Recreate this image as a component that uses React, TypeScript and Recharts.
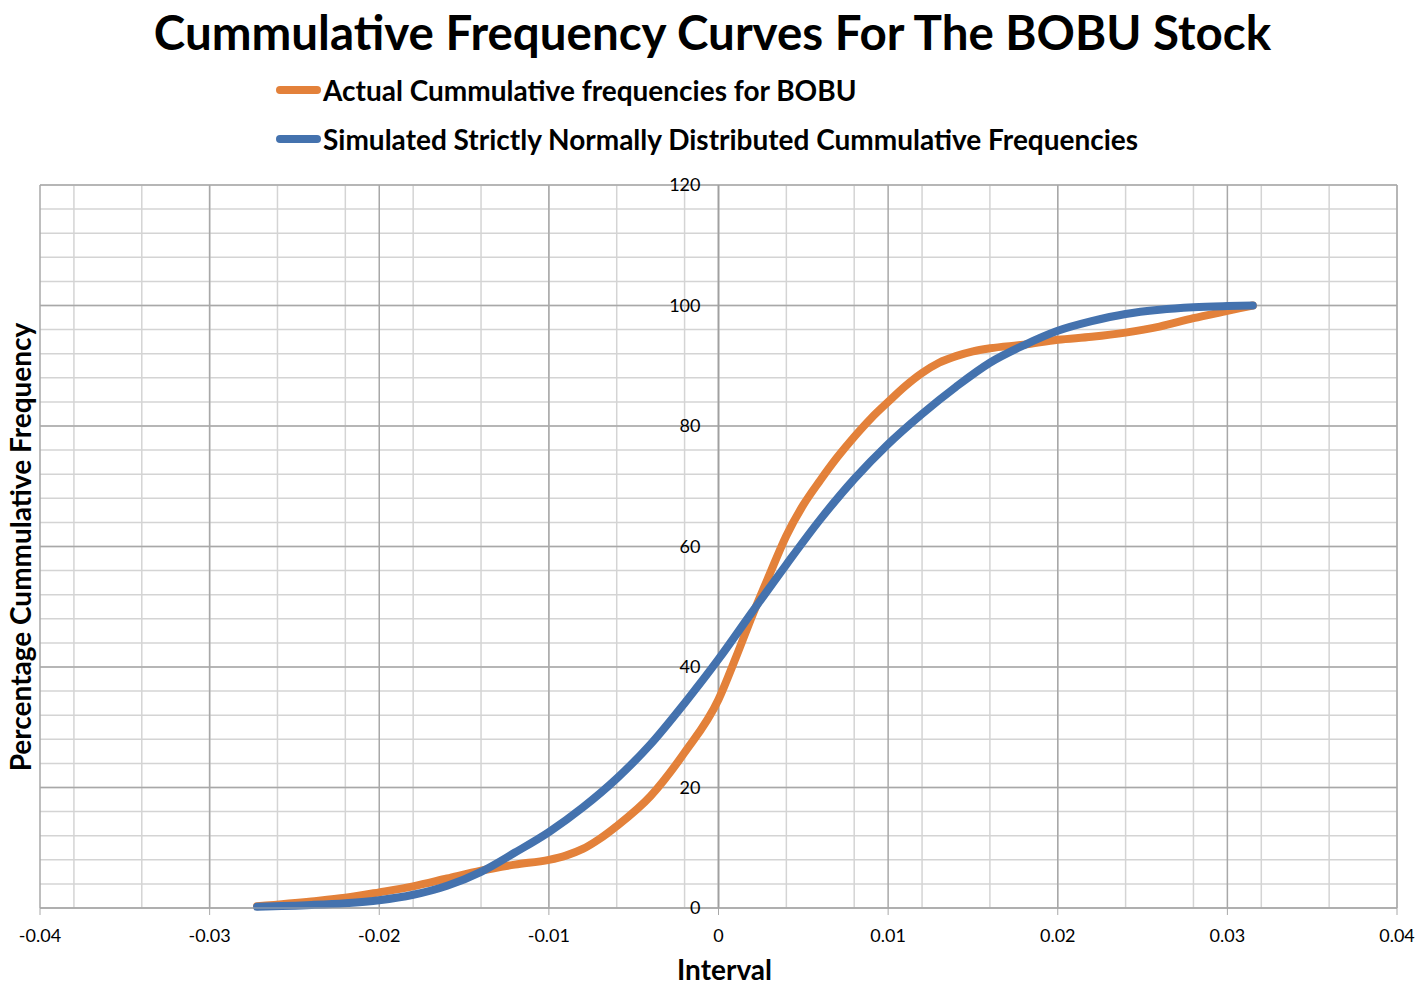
import React from 'react';
import { LineChart, Line, XAxis, YAxis, CartesianGrid, ReferenceLine } from 'recharts';

const actualX = [-0.0272, -0.024, -0.022, -0.02, -0.018, -0.016, -0.014, -0.012, -0.01, -0.009, -0.008, -0.007, -0.006, -0.004, -0.002, 0, 0.001, 0.002, 0.003, 0.004, 0.005, 0.006, 0.007, 0.008, 0.009, 0.01, 0.011, 0.012, 0.013, 0.014, 0.015, 0.016, 0.018, 0.02, 0.022, 0.024, 0.026, 0.028, 0.03, 0.0315];
const actualY = [0.3, 1.1, 1.7, 2.6, 3.6, 4.9, 6.2, 7.2, 8.0, 8.7, 9.8, 11.5, 13.6, 18.6, 25.8, 34.6, 41.4, 48.6, 55.3, 61.8, 66.9, 71.0, 74.8, 78.2, 81.3, 84.0, 86.6, 88.8, 90.5, 91.6, 92.4, 92.9, 93.5, 94.3, 94.8, 95.5, 96.5, 97.9, 99.1, 100];

const normalX = [-0.0272, -0.024, -0.022, -0.02, -0.018, -0.016, -0.014, -0.012, -0.01, -0.008, -0.006, -0.004, -0.002, 0, 0.002, 0.004, 0.006, 0.008, 0.01, 0.012, 0.014, 0.016, 0.018, 0.02, 0.022, 0.024, 0.026, 0.028, 0.03, 0.0315];
const normalY = [0.2, 0.5, 0.8, 1.3, 2.2, 3.7, 6.0, 9.2, 12.6, 16.7, 21.5, 27.2, 34.0, 41.3, 49.2, 57.0, 64.5, 71.2, 77.0, 82.0, 86.5, 90.5, 93.4, 95.8, 97.4, 98.6, 99.3, 99.7, 99.9, 100];

const xMajorTicks = [-0.04, -0.03, -0.02, -0.01, 0, 0.01, 0.02, 0.03, 0.04];
const yMajorTicks = [0, 20, 40, 60, 80, 100, 120];
const xMinorTicks: number[] = [];
for (let i = -20; i <= 20; i++) xMinorTicks.push((i * 2) / 1000);
const yMinorTicks: number[] = [];
for (let i = 0; i <= 30; i++) yMinorTicks.push(i * 4);

const seriesNames = ['Actual Cummulative frequencies for BOBU', 'Simulated Strictly Normally Distributed Cummulative Frequencies'];
const titleText = 'Cummulative Frequency Curves For The BOBU Stock';
const xTitle = 'Interval';
const yTitle = 'Percentage Cummulative Frequency';

const actualData = actualX.map((x, i) => ({ x, y: actualY[i] }));
const normalData = normalX.map((x, i) => ({ x, y: normalY[i] }));

const ORANGE = '#E3813A';
const BLUE = '#4472AE';
const FONT = 'Lato, "Open Sans", sans-serif';

const W = 1409;
const H = 988;
const M = { top: 177, right: 20, left: 31, bottom: 0 };
const PLOT_W = W - M.left - 1 - M.right;
const PLOT_H = 723;

const YTick = (props: any) => {
  const { x, y, payload } = props;
  const shift = PLOT_W / 2;
  return (
    <text x={x + shift - 10} y={y} dy={6} textAnchor="end" fontSize={18} fill="#000" fontFamily={FONT}>
      {payload.value}
    </text>
  );
};

const XTick = (props: any) => {
  const { x, y, payload } = props;
  return (
    <text x={x} y={y} dy={25} textAnchor="middle" fontSize={18} fill="#000" fontFamily={FONT}>
      {payload.value}
    </text>
  );
};

export default function App() {
  return (
    <div style={{ paddingLeft: 8, paddingTop: 8, width: W, background: '#fff' }}>
      <style>{'body{margin:0}'}</style>
      <div style={{ position: 'relative', width: W, height: H, background: '#fff' }}>
        <div style={{ position: 'absolute', left: 0, top: 0, width: W, textAlign: 'center', fontFamily: FONT, fontWeight: 700, fontSize: 47.5, lineHeight: '48px' }}>
          {titleText}
        </div>
        <div style={{ position: 'absolute', left: 268, top: 57, fontFamily: FONT, fontWeight: 700, fontSize: 28 }}>
          {[ORANGE, BLUE].map((c, i) => (
            <div key={i} style={{ display: 'flex', alignItems: 'center', height: 49 }}>
              <div style={{ width: 45, height: 8, borderRadius: 4, background: c, marginRight: 2 }} />
              <span>{seriesNames[i]}</span>
            </div>
          ))}
        </div>
        <div
          style={{
            position: 'absolute',
            left: 12 - 300,
            top: M.top + PLOT_H / 2 - 18,
            width: 600,
            height: 36,
            lineHeight: '36px',
            textAlign: 'center',
            transform: 'rotate(-90deg)',
            fontFamily: FONT,
            fontWeight: 700,
            fontSize: 28,
            whiteSpace: 'nowrap',
          }}
        >
          {yTitle}
        </div>
        <LineChart width={W} height={H} margin={M}>
          <CartesianGrid stroke="#D4D4D4" strokeWidth={1.5} verticalValues={xMinorTicks} horizontalValues={yMinorTicks} />
          <CartesianGrid stroke="#A8A8A8" strokeWidth={1.5} verticalValues={xMajorTicks} horizontalValues={yMajorTicks} fill="none" />
          <XAxis
            type="number"
            dataKey="x"
            domain={[-0.04, 0.04]}
            ticks={xMajorTicks}
            allowDataOverflow
            stroke="#A8A8A8"
            tickSize={7}
            tick={<XTick />}
            height={88}
            label={{ value: xTitle, position: 'insideBottom', offset: 16, fontSize: 28, fontWeight: 700, fill: '#000', fontFamily: FONT, dx: 6 }}
          />
          <YAxis
            type="number"
            dataKey="y"
            domain={[0, 120]}
            ticks={yMajorTicks}
            axisLine={false}
            tickLine={false}
            width={1}
            tick={<YTick />}
          />
          <ReferenceLine x={0} stroke="#A0A0A0" strokeWidth={1.5} />
          <Line data={actualData} dataKey="y" type="monotone" stroke={ORANGE} strokeWidth={8} dot={false} strokeLinecap="round" isAnimationActive={false} />
          <Line data={normalData} dataKey="y" type="monotone" stroke={BLUE} strokeWidth={8} dot={false} strokeLinecap="round" isAnimationActive={false} />
        </LineChart>
      </div>
    </div>
  );
}
